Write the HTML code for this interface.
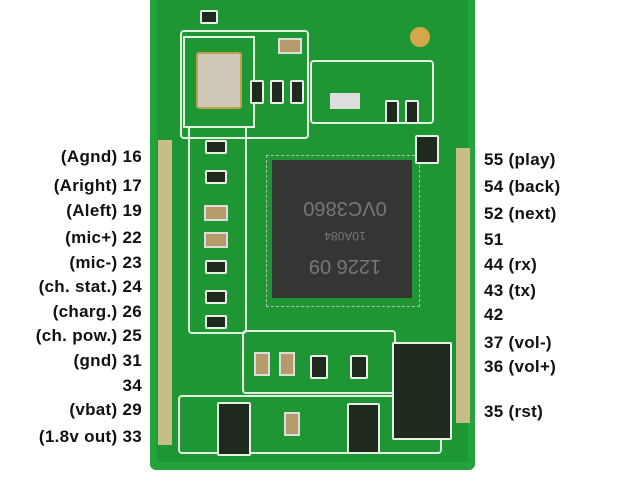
<!DOCTYPE html><html><head><style>
body{margin:0;width:620px;height:490px;background:#fff;position:relative;overflow:hidden;font-family:"Liberation Sans",Arial,sans-serif}
.a{position:absolute}
.l{position:absolute;right:478px;font-weight:bold;font-size:17px;letter-spacing:0.3px;color:#111;white-space:nowrap;line-height:18px}
.r{position:absolute;left:484px;font-weight:bold;font-size:17px;letter-spacing:0.3px;color:#111;white-space:nowrap;line-height:18px}
.c{position:absolute;background:#1d2a1d;border:2px solid #e8f0e8;border-radius:2px}
.cap{position:absolute;background:#b59a6a;border:2px solid #ddd}
.t{position:absolute;border:2px solid #dff0df;border-radius:4px}
</style></head><body>
<div class="a" style="left:150px;top:0;width:325px;height:470px;background:#24a33c;border-radius:0 0 6px 6px"></div>
<div class="a" style="left:157px;top:0;width:311px;height:462px;background:#1e9634"></div>
<div class="a" style="left:158px;top:140px;width:14px;height:305px;background:#c8bc88"></div>
<div class="a" style="left:456px;top:148px;width:14px;height:275px;background:#c8bc88"></div>
<!-- outlines / traces -->
<div class="t" style="left:180px;top:30px;width:125px;height:105px"></div>
<div class="t" style="left:188px;top:125px;width:55px;height:205px"></div>
<div class="t" style="left:242px;top:330px;width:150px;height:60px"></div>
<div class="t" style="left:178px;top:395px;width:260px;height:55px"></div>
<div class="t" style="left:310px;top:60px;width:120px;height:60px"></div>
<div class="a" style="left:183px;top:36px;width:68px;height:88px;border:2px solid #e5f2e5;background:#1e9634"></div>
<div class="a" style="left:196px;top:52px;width:42px;height:53px;background:#cfc8b8;border:2px solid #c0a050;border-radius:3px"></div>
<div class="a" style="left:266px;top:155px;width:152px;height:150px;border:1px dashed #bbb;background:#1e9634"></div>
<div class="a" style="left:272px;top:160px;width:140px;height:138px;background:#333633"></div>
<div class="a" style="left:290px;top:180px;width:110px;height:100px;color:#777;font-size:20px;text-align:center;line-height:28px;transform:rotate(180deg)">1226 09<br><span style="font-size:12px">10A084</span><br>0VC3860</div>
<div class="c" style="left:392px;top:342px;width:56px;height:94px"></div>
<div class="c" style="left:217px;top:402px;width:30px;height:50px"></div>
<div class="c" style="left:347px;top:403px;width:29px;height:47px"></div>
<div class="cap" style="left:204px;top:205px;width:20px;height:12px"></div>
<div class="cap" style="left:204px;top:232px;width:20px;height:12px"></div>
<div class="cap" style="left:254px;top:352px;width:12px;height:20px"></div>
<div class="cap" style="left:279px;top:352px;width:12px;height:20px"></div>
<div class="cap" style="left:284px;top:412px;width:12px;height:20px"></div>
<div class="cap" style="left:278px;top:38px;width:20px;height:12px"></div>
<div class="a" style="left:330px;top:93px;width:30px;height:16px;background:#ddd"></div>
<div class="a" style="left:410px;top:27px;width:20px;height:20px;border-radius:50%;background:#d4a84a"></div>
<div class="c" style="left:250px;top:80px;width:10px;height:20px"></div>
<div class="c" style="left:270px;top:80px;width:10px;height:20px"></div>
<div class="c" style="left:290px;top:80px;width:10px;height:20px"></div>
<div class="c" style="left:385px;top:100px;width:10px;height:20px"></div>
<div class="c" style="left:405px;top:100px;width:10px;height:20px"></div>
<div class="c" style="left:415px;top:135px;width:20px;height:25px"></div>
<div class="c" style="left:205px;top:140px;width:18px;height:10px"></div>
<div class="c" style="left:205px;top:170px;width:18px;height:10px"></div>
<div class="c" style="left:205px;top:260px;width:18px;height:10px"></div>
<div class="c" style="left:205px;top:290px;width:18px;height:10px"></div>
<div class="c" style="left:205px;top:315px;width:18px;height:10px"></div>
<div class="c" style="left:200px;top:10px;width:14px;height:10px"></div>
<div class="c" style="left:310px;top:355px;width:14px;height:20px"></div>
<div class="c" style="left:350px;top:355px;width:14px;height:20px"></div>
<div class="l" style="top:148px">(Agnd) 16</div>
<div class="l" style="top:177px">(Aright) 17</div>
<div class="l" style="top:202px">(Aleft) 19</div>
<div class="l" style="top:229px">(mic+) 22</div>
<div class="l" style="top:254px">(mic-) 23</div>
<div class="l" style="top:278px">(ch. stat.) 24</div>
<div class="l" style="top:303px">(charg.) 26</div>
<div class="l" style="top:327px">(ch. pow.) 25</div>
<div class="l" style="top:352px">(gnd) 31</div>
<div class="l" style="top:377px">34</div>
<div class="l" style="top:401px">(vbat) 29</div>
<div class="l" style="top:428px">(1.8v out) 33</div>
<div class="r" style="top:151px">55 (play)</div>
<div class="r" style="top:178px">54 (back)</div>
<div class="r" style="top:205px">52 (next)</div>
<div class="r" style="top:231px">51</div>
<div class="r" style="top:256px">44 (rx)</div>
<div class="r" style="top:282px">43 (tx)</div>
<div class="r" style="top:306px">42</div>
<div class="r" style="top:334px">37 (vol-)</div>
<div class="r" style="top:358px">36 (vol+)</div>
<div class="r" style="top:403px">35 (rst)</div>
</body></html>
